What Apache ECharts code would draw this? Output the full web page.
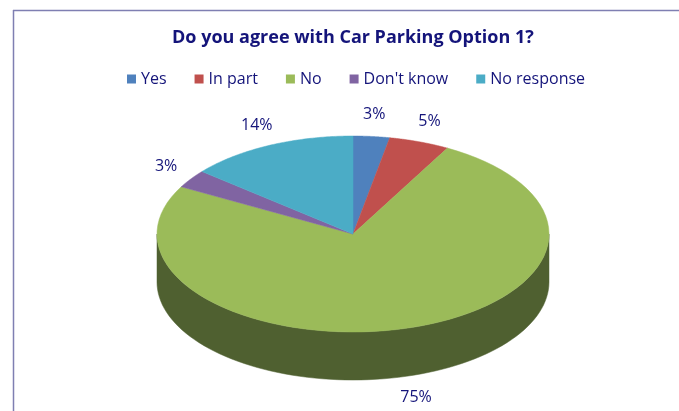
<!DOCTYPE html>
<html>
<head>
    <meta charset="utf-8">
    <title>Car Parking Option 1</title>
    <script src="https://cdn.jsdelivr.net/npm/echarts@6/dist/echarts.min.js"></script>
    <style type="text/css">
        * {
            margin: 0;
            padding: 0;
        }

        #main {
            width: 679px;
            height: 411px;
        }
    </style>
</head>
<body>
<div id="main"></div>
<script type="text/javascript">
    var titleText = 'Do you agree with Car Parking Option 1?';
    var categories = ['Yes', 'In part', 'No', "Don't know", 'No response'];
    var values = [3, 5, 75, 3, 14];
    var colors = ['#4F81BD', '#C0504D', '#9BBB59', '#8064A2', '#4BACC6'];
    var sideColors = ['#2F4D71', '#73302E', '#4F6030', '#4D3C61', '#2D6777'];

    var textColor = '#14147A';
    var font = 'Open Sans';

    var total = values.reduce(function (a, b) { return a + b; }, 0);

    // geometry of the tilted pie
    var cx = 353, cy = 234, rx = 196, ry = 98, depth = 48;

    function pt(ang, dy) {
        return [cx + rx * Math.sin(ang), cy - ry * Math.cos(ang) + (dy || 0)];
    }

    function renderItem(params, api) {
        var i = params.dataIndex;
        var before = 0;
        for (var k = 0; k < i; k++) before += values[k];
        var a0 = before / total * Math.PI * 2;
        var a1 = (before + values[i]) / total * Math.PI * 2;
        var steps = 80;
        var children = [];

        // top face
        var top = [[cx, cy]];
        for (var s = 0; s <= steps; s++) {
            top.push(pt(a0 + (a1 - a0) * s / steps));
        }
        children.push({
            type: 'polygon',
            z2: 10,
            shape: {points: top},
            style: {fill: colors[i], stroke: colors[i], lineWidth: 0.5}
        });

        // front rim (between 90 and 270 degrees)
        var f0 = Math.max(a0, Math.PI / 2), f1 = Math.min(a1, Math.PI * 1.5);
        if (f1 > f0) {
            var upper = [], lower = [];
            for (var s2 = 0; s2 <= steps; s2++) {
                var a = f0 + (f1 - f0) * s2 / steps;
                upper.push(pt(a));
                lower.unshift(pt(a, depth));
            }
            children.push({
                type: 'polygon',
                z2: 1,
                shape: {points: upper.concat(lower)},
                style: {fill: sideColors[i], stroke: sideColors[i], lineWidth: 0.5}
            });
        }

        // percent label
        var mid = (a0 + a1) / 2;
        var lx = cx + (rx + 30) * Math.sin(mid);
        var ly = cy - (ry + 22) * Math.cos(mid);
        if (Math.cos(mid) < 0) ly += depth;
        children.push({
            type: 'text',
            z2: 20,
            x: lx,
            y: ly,
            style: {
                text: Math.round(values[i] / total * 100) + '%',
                fill: textColor,
                font: '16px "' + font + '"',
                align: 'center',
                verticalAlign: 'middle'
            }
        });

        return {type: 'group', children: children};
    }

    var myChart = echarts.init(document.getElementById('main'));

    var option = {
        animation: false,
        color: colors,
        title: {
            text: titleText,
            left: 167,
            top: 24,
            textStyle: {
                color: textColor,
                fontFamily: font,
                fontWeight: 'bold',
                fontSize: 18
            }
        },
        legend: {
            top: 66,
            left: 122,
            itemWidth: 9,
            itemHeight: 9,
            itemGap: 28,
            icon: 'rect',
            textStyle: {
                color: textColor,
                fontFamily: font,
                fontSize: 16
            },
            data: categories
        },
        graphic: [
            {type: 'line', shape: {x1: 13, y1: 10.5, x2: 679, y2: 10.5}, style: {stroke: '#7F7FB2', lineWidth: 1.5}},
            {type: 'line', shape: {x1: 13.5, y1: 10, x2: 13.5, y2: 411}, style: {stroke: '#7F7FB2', lineWidth: 1.5}}
        ],
        series: [
            {
                // only feeds the legend
                name: 'legend',
                type: 'pie',
                radius: [0, 0],
                silent: true,
                label: {show: false},
                labelLine: {show: false},
                data: categories.map(function (c, i) {
                    return {name: c, value: values[i]};
                })
            },
            {
                name: 'pie3d',
                type: 'custom',
                coordinateSystem: 'none',
                silent: true,
                renderItem: renderItem,
                data: values
            }
        ]
    };

    myChart.setOption(option);
</script>
</body>
</html>
